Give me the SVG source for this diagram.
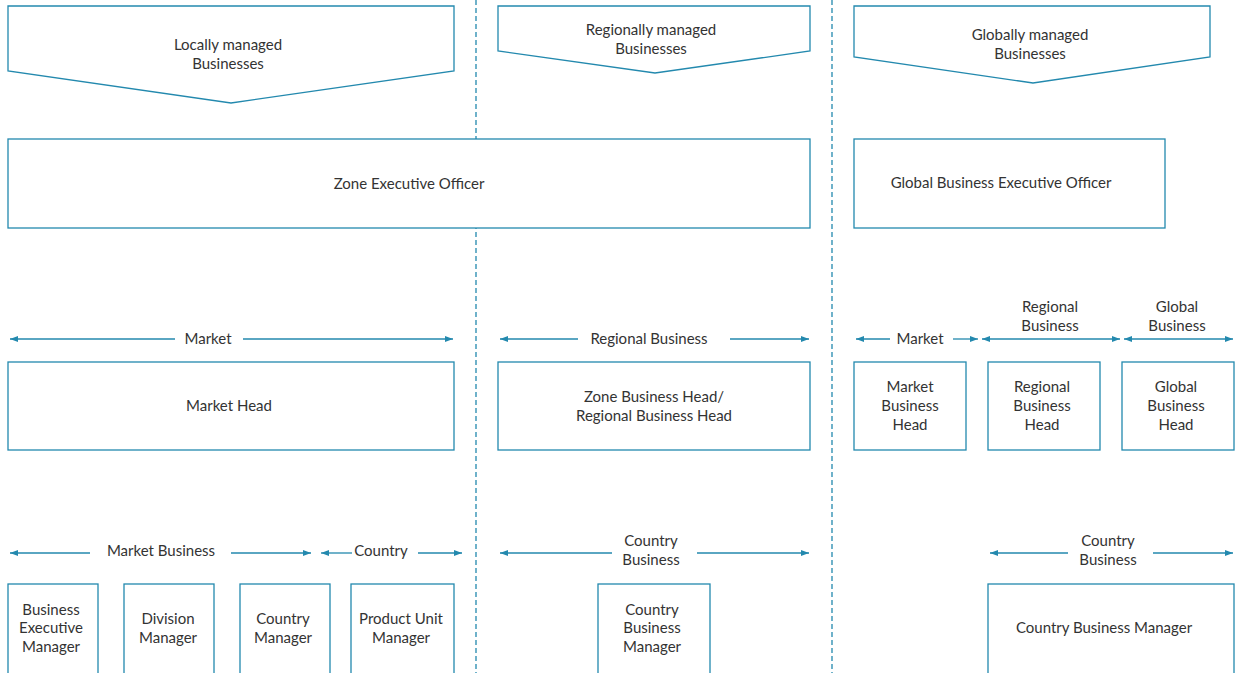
<svg xmlns="http://www.w3.org/2000/svg" width="1240" height="673" viewBox="0 0 1240 673">
<defs>
<style>
.b{fill:#fff;stroke:#2389ae;stroke-width:1.3}
.d{stroke:#2389ae;stroke-width:1.3;stroke-dasharray:5,3;fill:none}
.c{stroke:#2389ae;stroke-width:1.3;fill:none}
text{font-family:Lato,"Open Sans","Liberation Sans",sans-serif;font-size:15px;fill:#333;text-anchor:middle}
</style>
<marker id="ae" viewBox="0 0 8 6" refX="8" refY="3" markerWidth="8" markerHeight="6" markerUnits="userSpaceOnUse" orient="auto"><path d="M0,0L8,3L0,6z" fill="#2389ae"/></marker>
<marker id="as" viewBox="0 0 8 6" refX="0" refY="3" markerWidth="8" markerHeight="6" markerUnits="userSpaceOnUse" orient="auto"><path d="M8,0L0,3L8,6z" fill="#2389ae"/></marker>
</defs>
<rect width="1240" height="673" fill="#fff"/>
<g id="dividers">
<line class="d" x1="476" y1="0" x2="476" y2="673"/>
<line class="d" x1="832" y1="0" x2="832" y2="673"/>
</g>
<g id="connectors">
<line class="c" x1="10" y1="339" x2="175" y2="339" marker-start="url(#as)"/>
<line class="c" x1="243" y1="339" x2="453" y2="339" marker-end="url(#ae)"/>
<line class="c" x1="500" y1="339" x2="578" y2="339" marker-start="url(#as)"/>
<line class="c" x1="730" y1="339" x2="809" y2="339" marker-end="url(#ae)"/>
<line class="c" x1="856" y1="339" x2="890" y2="339" marker-start="url(#as)"/>
<line class="c" x1="953" y1="339" x2="978" y2="339" marker-end="url(#ae)"/>
<line class="c" x1="982" y1="339" x2="1120" y2="339" marker-start="url(#as)" marker-end="url(#ae)"/>
<line class="c" x1="1124" y1="339" x2="1233" y2="339" marker-start="url(#as)" marker-end="url(#ae)"/>
<line class="c" x1="10" y1="553" x2="90" y2="553" marker-start="url(#as)"/>
<line class="c" x1="231" y1="553" x2="311" y2="553" marker-end="url(#ae)"/>
<line class="c" x1="321" y1="553" x2="352" y2="553" marker-start="url(#as)"/>
<line class="c" x1="418" y1="553" x2="462" y2="553" marker-end="url(#ae)"/>
<line class="c" x1="500" y1="553" x2="612" y2="553" marker-start="url(#as)"/>
<line class="c" x1="697" y1="553" x2="809" y2="553" marker-end="url(#ae)"/>
<line class="c" x1="990" y1="553" x2="1068" y2="553" marker-start="url(#as)"/>
<line class="c" x1="1153" y1="553" x2="1233" y2="553" marker-end="url(#ae)"/>
</g>
<g id="labels">
<text x="208" y="344">Market</text>
<text x="649" y="344">Regional Business</text>
<text x="920" y="344">Market</text>
<text x="1050" y="312">Regional</text>
<text x="1050" y="331">Business</text>
<text x="1177" y="312">Global</text>
<text x="1177" y="331">Business</text>
<text x="161" y="556">Market Business</text>
<text x="381" y="556">Country</text>
<text x="651" y="546">Country</text>
<text x="651" y="565">Business</text>
<text x="1108" y="546">Country</text>
<text x="1108" y="565">Business</text>
</g>
<g id="local"><path class="b" d="M8,6H454V71L231,103L8,71Z"/><text x="228" y="50">Locally managed</text><text x="228" y="69">Businesses</text></g>
<g id="regional"><path class="b" d="M498,6H810V51L655,73L498,51Z"/><text x="651" y="35">Regionally managed</text><text x="651" y="54">Businesses</text></g>
<g id="global"><path class="b" d="M854,6H1210V57L1033,83L854,57Z"/><text x="1030" y="40">Globally managed</text><text x="1030" y="59">Businesses</text></g>
<g id="zeo"><rect class="b" x="8" y="139" width="802" height="89"/><text x="409" y="189">Zone Executive Officer</text></g>
<g id="gbeo"><rect class="b" x="854" y="139" width="311" height="89"/><text x="1001" y="188">Global Business Executive Officer</text></g>
<g id="mh"><rect class="b" x="8" y="362" width="446" height="88"/><text x="229" y="411">Market Head</text></g>
<g id="zbh"><rect class="b" x="498" y="362" width="312" height="88"/><text x="654" y="402">Zone Business Head/</text><text x="654" y="421">Regional Business Head</text></g>
<g id="mbh"><rect class="b" x="854" y="362" width="112" height="88"/><text x="910" y="392">Market</text><text x="910" y="411">Business</text><text x="910" y="430">Head</text></g>
<g id="rbh"><rect class="b" x="988" y="362" width="112" height="88"/><text x="1042" y="392">Regional</text><text x="1042" y="411">Business</text><text x="1042" y="430">Head</text></g>
<g id="gbh"><rect class="b" x="1122" y="362" width="112" height="88"/><text x="1176" y="392">Global</text><text x="1176" y="411">Business</text><text x="1176" y="430">Head</text></g>
<g id="bem"><rect class="b" x="8" y="584" width="90" height="95"/><text x="51" y="615">Business</text><text x="51" y="633">Executive</text><text x="51" y="652">Manager</text></g>
<g id="dm"><rect class="b" x="124" y="584" width="90" height="95"/><text x="168" y="624">Division</text><text x="168" y="643">Manager</text></g>
<g id="cm"><rect class="b" x="240" y="584" width="90" height="95"/><text x="283" y="624">Country</text><text x="283" y="643">Manager</text></g>
<g id="pum"><rect class="b" x="351" y="584" width="103" height="95"/><text x="401" y="624">Product Unit</text><text x="401" y="643">Manager</text></g>
<g id="cbm1"><rect class="b" x="598" y="584" width="112" height="95"/><text x="652" y="615">Country</text><text x="652" y="633">Business</text><text x="652" y="652">Manager</text></g>
<g id="cbm2"><rect class="b" x="988" y="584" width="246" height="95"/><text x="1104" y="633">Country Business Manager</text></g>
</svg>
